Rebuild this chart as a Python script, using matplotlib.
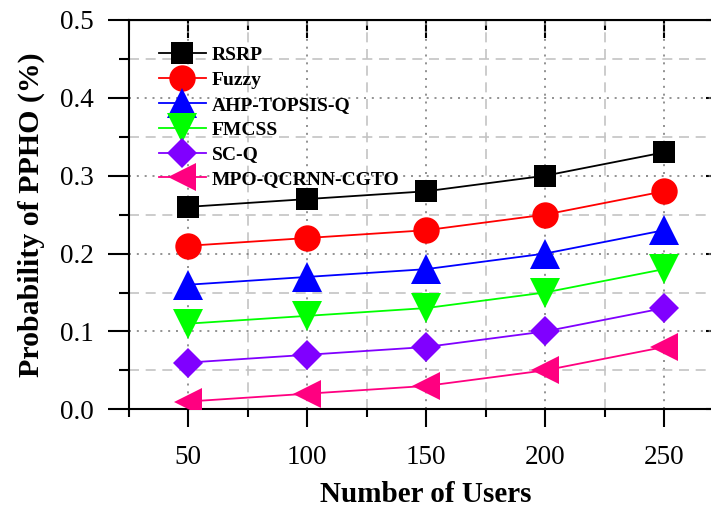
import matplotlib
matplotlib.use("Agg")
import matplotlib.pyplot as plt
from matplotlib.ticker import MultipleLocator

users = [50, 100, 150, 200, 250]
rsrp = [0.26, 0.27, 0.28, 0.30, 0.33]
fuzzy = [0.21, 0.22, 0.23, 0.25, 0.28]
ahp = [0.16, 0.17, 0.18, 0.20, 0.23]
fmcss = [0.11, 0.12, 0.13, 0.15, 0.18]
scq = [0.06, 0.07, 0.08, 0.10, 0.13]
mpo = [0.01, 0.02, 0.03, 0.05, 0.08]
labels = ["RSRP", "Fuzzy", "AHP-TOPSIS-Q", "FMCSS", "SC-Q", "MPO-QCRNN-CGTO"]
series = [rsrp, fuzzy, ahp, fmcss, scq, mpo]
colors = ["#000000", "#ff0000", "#0000ff", "#00ff00", "#8000ff", "#ff0080"]
markers = ["s", "o", "^", "v", "D", "<"]
msizes = [15.5, 19, 21, 21, 15.5, 20.5]

plt.rcParams['font.family'] = ['Liberation Serif', 'DejaVu Serif']

W, H = 711, 509
fig = plt.figure(figsize=(W / 100, H / 100), dpi=100)
left, right = 128.5, 723.5
top, bottom = 20, 409.3
ax = fig.add_axes([left / W, (H - bottom) / H, (right - left) / W, (bottom - top) / H])

for y, lab, c, m, ms in zip(series, labels, colors, markers, msizes):
    ax.plot(users, y, color=c, marker=m, markersize=ms, linewidth=1.3,
            label=lab, markeredgewidth=0, zorder=3)

ax.set_xlim(25, 275)
ax.set_ylim(0.0, 0.5)
ax.xaxis.set_major_locator(MultipleLocator(50))
ax.xaxis.set_minor_locator(MultipleLocator(25))
ax.yaxis.set_major_locator(MultipleLocator(0.1))
ax.yaxis.set_minor_locator(MultipleLocator(0.05))
ax.yaxis.set_major_formatter(matplotlib.ticker.FormatStrFormatter('%.1f'))

ax.grid(which='major', color='#808080', linestyle=(0, (1.2, 3.5)), linewidth=1.2, zorder=0)
ax.grid(which='minor', color='#c4c4c4', linestyle=(0, (6, 4)), linewidth=1.2, zorder=0)

for s in ax.spines.values():
    s.set_linewidth(1.5)

ax.tick_params(axis='x', which='major', direction='out', length=13, width=1.5,
               labelsize=19.5, pad=13, top=False)
ax.tick_params(axis='x', which='minor', direction='out', length=6, width=1.5, top=False)
ax.tick_params(axis='y', which='major', direction='out', length=15, width=1.5,
               labelsize=19.5, pad=10, right=False)
ax.tick_params(axis='y', which='minor', direction='out', length=7.5, width=1.5, right=False)

# mirrored inward ticks on top and right
axt = ax.secondary_xaxis('top')
axt.xaxis.set_major_locator(MultipleLocator(50))
axt.xaxis.set_minor_locator(MultipleLocator(25))
axt.tick_params(which='major', direction='in', length=13, width=1.5, labeltop=False)
axt.tick_params(which='minor', direction='in', length=7, width=1.5)
axr = ax.secondary_yaxis('right')
axr.yaxis.set_major_locator(MultipleLocator(0.1))
axr.yaxis.set_minor_locator(MultipleLocator(0.05))
axr.tick_params(which='major', direction='in', length=13, width=1.5, labelright=False)
axr.tick_params(which='minor', direction='in', length=7, width=1.5)

ax.set_xlabel("Number of Users", fontsize=21, fontweight='bold', labelpad=7.5)
ax.set_ylabel("Probability of PPHO (%)", fontsize=21.5, fontweight='bold', labelpad=11)

leg = ax.legend(loc='upper left', bbox_to_anchor=(159 / W, 1 - 46.5 / H),
                bbox_transform=fig.transFigure, frameon=False,
                prop={'weight': 'bold', 'size': 14}, borderpad=0, borderaxespad=0,
                handlelength=2.4, handletextpad=0.3, labelspacing=0.37,
                markerscale=1.0)

fig.savefig("out.png", dpi=100)
